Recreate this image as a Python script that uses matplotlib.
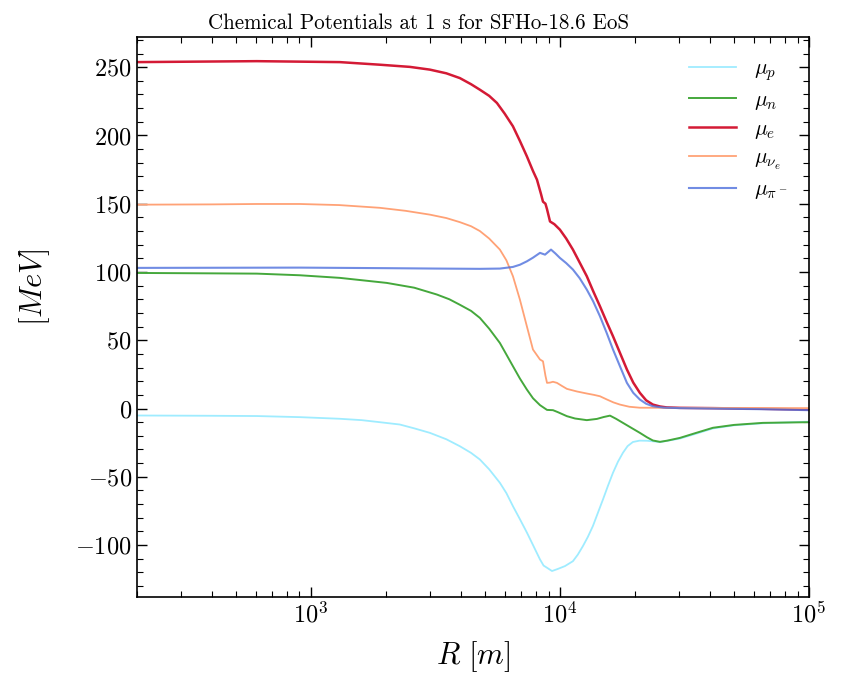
import matplotlib
matplotlib.use("Agg")
import matplotlib.pyplot as plt
from matplotlib.ticker import MultipleLocator, LogLocator, NullFormatter

plt.rcParams.update({
    "font.family": "serif",
    "font.serif": ["cmr10"],
    "mathtext.fontset": "cm",
    "axes.formatter.use_mathtext": True,
    "axes.unicode_minus": True,
})

# ---- data (R in metres, potentials in MeV) ----
r_p = [200, 400, 607, 903, 1307, 1600, 1892, 2276, 2600, 3005, 3500, 3966, 4400,
       4771, 5200, 5742, 6100, 6478, 6908, 7369, 7800, 8318, 8600, 8877, 9296,
       9800, 10475, 11278, 11800, 12367, 12950, 13572, 14200, 14890, 15600,
       16340, 17100, 17910, 18700, 19640, 20900, 22340, 23620, 25210, 30340,
       35000, 41150, 50000, 65310, 100000]
mu_p = [-5.1, -5.3, -5.5, -6.3, -7.5, -8.5, -10.0, -11.7, -14.5, -17.8, -22.5,
        -27.6, -32.5, -37.3, -44.5, -54.4, -62.0, -71.5, -81.0, -90.8, -100.0,
        -110.5, -115.0, -116.6, -119.0, -117.5, -115.4, -111.8, -107.0, -100.8,
        -94.0, -86.0, -76.5, -66.6, -56.5, -47.0, -39.0, -32.4, -27.5, -24.5,
        -23.5, -23.6, -24.0, -24.6, -22.0, -18.6, -14.6, -12.3, -10.8, -9.6]

r_n = [200, 400, 607, 903, 1307, 2018, 2600, 3206, 3600, 3966, 4400, 4771, 5200,
       5742, 6100, 6478, 6908, 7369, 7800, 8318, 8877, 9381, 9800, 10670, 11500,
       12823, 14080, 15000, 15890, 16800, 17910, 19300, 20940, 22340, 23620,
       25210, 27000, 30340, 35000, 41150, 50000, 65310, 100000]
mu_n = [99.3, 99.0, 98.8, 97.6, 95.7, 92.0, 88.5, 83.5, 80.0, 76.0, 71.5, 66.4,
        58.5, 48.0, 39.5, 31.0, 22.0, 13.9, 7.5, 2.5, -1.0, -1.2, -2.6, -5.6,
        -7.3, -8.5, -7.6, -6.2, -5.2, -7.5, -10.5, -14.0, -17.8, -21.0, -23.4,
        -24.4, -23.5, -21.5, -18.0, -14.1, -12.0, -10.5, -10.0]

r_e = [200, 607, 1307, 1892, 2500, 3005, 3500, 3966, 4400, 4771, 5200, 5586, 6000,
       6478, 6908, 7369, 7796, 8090, 8400, 8552, 8750, 8877, 9126, 9500, 10000,
       10600, 11278, 12000, 12823, 13600, 14480, 15400, 16340, 17420, 18580,
       19700, 20940, 22200, 23620, 25210, 26890, 30340, 41150, 65310, 100000]
mu_e = [253.7, 254.4, 253.7, 251.8, 250.2, 248.2, 245.5, 242.0, 237.5, 233.5,
        229.0, 223.8, 216.0, 206.7, 196.0, 184.7, 174.0, 167.6, 157.0, 151.5,
        150.0, 146.0, 137.0, 135.0, 131.0, 124.5, 116.4, 107.0, 96.9, 86.0, 74.9,
        63.5, 52.9, 40.8, 28.6, 19.0, 11.5, 6.0, 2.9, 1.5, 0.8, 0.5, 0.3, -0.2,
        -0.8]

r_nu = [200, 400, 607, 903, 1300, 1892, 2400, 3005, 3500, 3966, 4400, 4771, 5200,
        5742, 6100, 6478, 6908, 7369, 7796, 8318, 8552, 8750, 8877, 9130, 9381,
        9730, 10200, 10670, 11700, 12823, 13700, 14480, 15450, 16400, 17420,
        19000, 20940, 30340, 100000]
mu_nu = [149.3, 149.5, 149.8, 149.8, 149.0, 147.0, 144.8, 142.0, 139.5, 136.5,
         133.5, 130.0, 124.5, 116.4, 108.5, 96.9, 79.8, 60.2, 43.2, 35.9, 34.6,
         24.0, 18.8, 19.0, 19.6, 18.8, 16.5, 14.4, 12.5, 11.0, 10.0, 9.0, 6.6,
         4.5, 2.9, 1.3, 0.6, 0.5, 0.3]

r_pi = [200, 903, 2000, 3206, 4771, 5742, 6478, 6908, 7369, 7800, 8318, 8715,
        9211, 9600, 10000, 10600, 11278, 12000, 12823, 13600, 14480, 15400,
        16340, 17420, 18580, 19700, 20940, 22200, 23620, 26000, 30340, 65310,
        100000]
mu_pi = [103.0, 103.2, 102.8, 102.5, 102.3, 102.5, 103.7, 105.3, 107.8, 110.5,
         114.0, 112.7, 116.4, 113.5, 110.3, 106.5, 101.8, 95.5, 87.1, 78.5, 67.6,
         55.5, 43.2, 31.0, 18.8, 11.5, 6.6, 3.5, 1.7, 0.7, 0.3, -0.5, -1.2]

labels = [r"$\mu_p$", r"$\mu_n$", r"$\mu_e$", r"$\mu_{\nu_e}$", r"$\mu_{\pi^-}$"]
colors = ["#9fecff", "#45a83c", "#d41a35", "#ffa276", "#4d70dd"]

fig = plt.figure(figsize=(8.44, 6.75), dpi=100)
ax = fig.add_axes([0.162, 0.1156, 0.7965, 0.8294])

series = [(r_p, mu_p), (r_n, mu_n), (r_e, mu_e), (r_nu, mu_nu), (r_pi, mu_pi)]
widths = [1.3, 1.4, 1.8, 1.3, 1.5]
alphas = [1.0, 1.0, 1.0, 1.0, 0.8]
for (r, v), lab, c, lw, a in zip(series, labels, colors, widths, alphas):
    ax.plot(r, v, color=c, lw=lw, label=lab, alpha=a)

ax.set_xscale("log")
ax.set_xlim(200, 1e5)
ax.set_ylim(-138, 272)
ax.yaxis.set_major_locator(MultipleLocator(50))
ax.yaxis.set_minor_locator(MultipleLocator(10))
ax.xaxis.set_major_locator(LogLocator(base=10, numticks=10))
ax.xaxis.set_minor_locator(LogLocator(base=10, subs=range(2, 10), numticks=20))
ax.xaxis.set_minor_formatter(NullFormatter())

ax.tick_params(which="both", direction="in", top=True, right=True, labelsize=17.5)
ax.tick_params(which="major", length=7, width=1.0)
ax.tick_params(which="minor", length=4, width=0.8)
for s in ax.spines.values():
    s.set_linewidth(1.2)

ax.set_xlabel(r"$R\ [m]$", fontsize=22, labelpad=8)
ax.set_ylabel(r"$[MeV]$", fontsize=22)
ax.yaxis.set_label_coords(-0.126, 0.553)
fig.suptitle("Chemical Potentials at 1 s for SFHo-18.6 EoS", fontsize=15.1,
             x=0.496, y=0.980, va="top")

ax.legend(loc="upper right", frameon=False, fontsize=15.5, labelspacing=0.35,
          handlelength=2.2, borderaxespad=0.6)

fig.savefig("out.png", dpi=100)
